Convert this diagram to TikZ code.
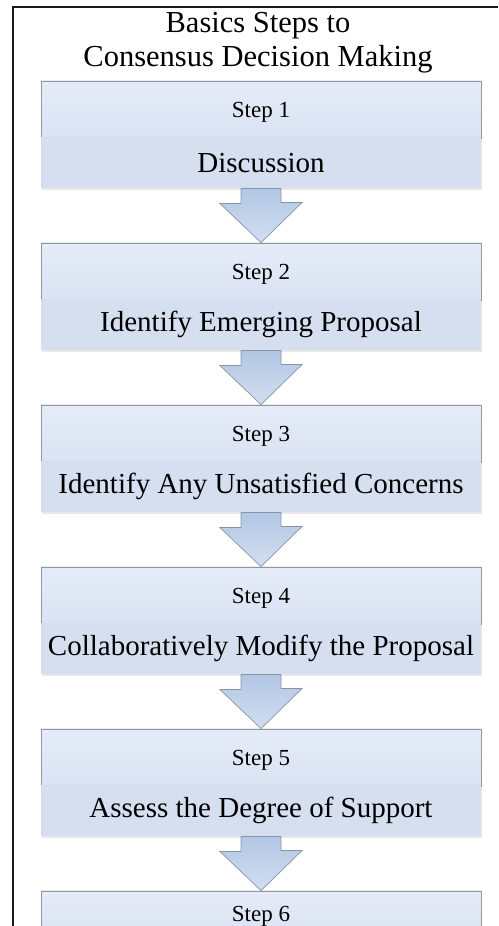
\documentclass[tikz,border=0pt]{standalone}
\usepackage{fontspec}
\setmainfont{Liberation Serif}
\usepackage{tikz}
\usetikzlibrary{positioning, calc, shadows}
\definecolor{cFrame}{RGB}{25,25,25}
\definecolor{cEdge}{RGB}{150,150,150}
\definecolor{cTopLight}{RGB}{229,236,248}
\definecolor{cTopDark}{RGB}{218,227,243}
\definecolor{cBand}{RGB}{213,223,240}
\definecolor{cArrowTop}{RGB}{178,199,228}
\definecolor{cArrowBot}{RGB}{210,222,240}
\definecolor{cArrowEdge}{RGB}{135,148,168}
\tikzset{
	steptop/.style ={rectangle, minimum width=440pt, minimum height=57pt, inner sep=0pt, text depth=0pt, draw=cEdge, line width=0.8pt, top color=cTopLight, bottom color=cTopDark, font=\fontsize{23}{26}\selectfont},
	stepband/.style={rectangle, minimum width=440pt, minimum height=51pt, inner sep=0pt, fill=cBand, font=\fontsize{29}{32}\selectfont, drop shadow={opacity=0.18, shadow xshift=0.6pt, shadow yshift=-1.6pt}},
	blockarrow/.style={draw=cArrowEdge, line width=0.7pt, top color=cArrowTop, bottom color=cArrowBot, line join=miter},
	titlebox/.style={align=center, font=\fontsize{30.5}{34}\selectfont},
}
\begin{document}
\begin{tikzpicture}[x=1pt, y=1pt]
	\useasboundingbox (0,0) rectangle (498,926);
	\draw[cFrame, line width=1.4pt] (13,-10) -- (13,919) -- (498,919);
	\node[titlebox] (title) at (258,883) {Basics Steps to\\Consensus Decision Making};
	\node[steptop] (s1) at (261,816.5) {Step 1};
	\node[stepband, below=-1.2pt of s1] (t1) {Discussion};
	\node[steptop, below=54pt of t1] (s2) {Step 2};
	\node[stepband, below=-1.2pt of s2] (t2) {Identify Emerging Proposal};
	\node[steptop, below=54pt of t2] (s3) {Step 3};
	\node[stepband, below=-1.2pt of s3] (t3) {Identify Any Unsatisfied Concerns};
	\node[steptop, below=54pt of t3] (s4) {Step 4};
	\node[stepband, below=-1.2pt of s4] (t4) {Collaboratively Modify the Proposal};
	\node[steptop, below=54pt of t4] (s5) {Step 5};
	\node[stepband, below=-1.2pt of s5] (t5) {Assess the Degree of Support};
	\node[steptop, minimum height=46pt, below=54pt of t5] (s6) {Step 6};
	% block arrows between the steps
	\draw[blockarrow] ([xshift=-20pt]t1.south) -- ++(0,-15) -- ++(-21,0) -- (s2.north) -- ++(41,40) -- ++(-21,0) -- ([xshift=20pt]t1.south) -- cycle;
	\draw[blockarrow] ([xshift=-20pt]t2.south) -- ++(0,-15) -- ++(-21,0) -- (s3.north) -- ++(41,40) -- ++(-21,0) -- ([xshift=20pt]t2.south) -- cycle;
	\draw[blockarrow] ([xshift=-20pt]t3.south) -- ++(0,-15) -- ++(-21,0) -- (s4.north) -- ++(41,40) -- ++(-21,0) -- ([xshift=20pt]t3.south) -- cycle;
	\draw[blockarrow] ([xshift=-20pt]t4.south) -- ++(0,-15) -- ++(-21,0) -- (s5.north) -- ++(41,40) -- ++(-21,0) -- ([xshift=20pt]t4.south) -- cycle;
	\draw[blockarrow] ([xshift=-20pt]t5.south) -- ++(0,-15) -- ++(-21,0) -- (s6.north) -- ++(41,40) -- ++(-21,0) -- ([xshift=20pt]t5.south) -- cycle;
\end{tikzpicture}
\end{document}
